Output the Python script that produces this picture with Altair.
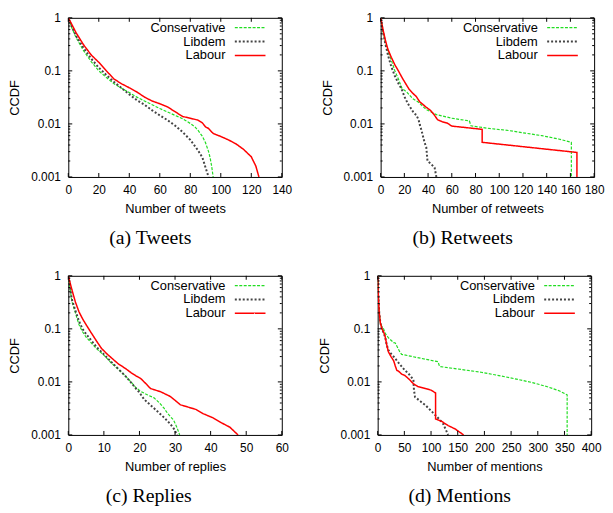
import altair as alt
import pandas as pd

PARTIES = ["Conservative", "Libdem", "Labour"]
COLORS = ["#22dd22", "#444444", "#ff0000"]
DASHES = [[3, 1.5], [2, 2], [1, 0]]
WIDTHS = [1.2, 2.0, 1.5]

Y_MAJOR = [1, 0.1, 0.01, 0.001]
Y_MINOR = [m * d for d in [0.001, 0.01, 0.1] for m in range(2, 10)]

# ---- (a) Tweets ----
cons_a_x = [0, 2, 5, 10, 15, 20, 25, 30, 35, 40, 45, 50, 55, 60, 65, 70, 75, 80, 83, 85, 88, 90, 92, 93, 94, 95]
cons_a_y = [1, 0.68, 0.43, 0.24, 0.15, 0.1, 0.075, 0.057, 0.047, 0.039, 0.032, 0.027, 0.023, 0.0195, 0.0168,
            0.0145, 0.0125, 0.0102, 0.0088, 0.0076, 0.0058, 0.0044, 0.003, 0.0023, 0.0016, 0.001]
lib_a_x = [0, 2, 5, 10, 15, 20, 25, 30, 35, 40, 45, 50, 55, 60, 65, 70, 75, 80, 85, 88, 90, 92]
lib_a_y = [1, 0.72, 0.46, 0.27, 0.17, 0.115, 0.083, 0.062, 0.047, 0.036, 0.028, 0.023, 0.018, 0.0145, 0.0118,
           0.0093, 0.007, 0.005, 0.0032, 0.0023, 0.0015, 0.001]
lab_a_x = [0, 2, 5, 10, 15, 20, 25, 30, 35, 40, 45, 50, 55, 60, 65, 70, 75, 80, 85, 88, 90, 92, 95, 100, 105,
           110, 115, 120, 123, 125]
lab_a_y = [1, 0.78, 0.53, 0.31, 0.2, 0.145, 0.1, 0.07, 0.057, 0.048, 0.04, 0.032, 0.027, 0.024, 0.021, 0.017,
           0.0138, 0.0128, 0.0118, 0.0104, 0.0088, 0.0082, 0.0066, 0.0058, 0.005, 0.0042, 0.0033, 0.0024, 0.0016, 0.001]

# ---- (b) Retweets ----
cons_b_x = [0, 2, 4, 6, 9, 12, 15, 18, 22, 27, 31.6, 38.5, 47, 60, 74.8, 76.2, 90, 108, 122, 136, 150, 160.8, 160.8]
cons_b_y = [1, 0.55, 0.35, 0.24, 0.16, 0.1, 0.07, 0.047, 0.04, 0.03, 0.026, 0.0186, 0.015, 0.0128, 0.0114,
            0.0092, 0.0083, 0.0075, 0.0067, 0.006, 0.0052, 0.0045, 0.001]
lib_b_x = [0, 2, 4, 6.4, 9, 12, 15, 17.6, 20, 23, 26, 28, 30, 32, 33, 34.5, 35.6, 37, 38.5, 39.5, 42, 45.5, 47]
lib_b_y = [1, 0.55, 0.32, 0.19, 0.12, 0.08, 0.058, 0.046, 0.033, 0.024, 0.019, 0.016, 0.0148, 0.012, 0.0097,
           0.0075, 0.006, 0.0045, 0.0036, 0.002, 0.0018, 0.0015, 0.001]
lab_b_x = [0, 2, 4, 6, 9, 12, 15, 18, 21, 24, 27, 30, 33, 35, 38, 42, 45, 48, 52, 56, 60, 85.6, 85.6, 165.5, 165.5]
lab_b_y = [1, 0.6, 0.38, 0.26, 0.18, 0.13, 0.1, 0.075, 0.058, 0.045, 0.038, 0.033, 0.026, 0.024, 0.021, 0.018,
           0.015, 0.012, 0.011, 0.0104, 0.0091, 0.0079, 0.0045, 0.0029, 0.001]

# ---- (c) Replies ----
cons_c_x = [0, 1, 2, 3, 4, 5, 6.5, 8, 10.2, 12, 13.9, 16, 17.6, 19, 20.4, 22, 24.1, 25.5, 26.9, 28, 29.6, 30.5, 31.3]
cons_c_y = [1, 0.33, 0.2, 0.12, 0.088, 0.07, 0.054, 0.042, 0.031, 0.023, 0.0177, 0.013, 0.01, 0.0078, 0.0066,
            0.0058, 0.005, 0.0041, 0.0032, 0.0025, 0.0019, 0.0014, 0.001]
lib_c_x = [0, 1, 2, 3, 4, 5, 6.5, 8, 10.2, 12, 13.9, 16, 17.6, 19, 20, 21.3, 23, 25, 27, 28.7, 29.7, 30.6]
lib_c_y = [1, 0.36, 0.22, 0.14, 0.1, 0.08, 0.06, 0.045, 0.032, 0.024, 0.018, 0.013, 0.0098, 0.0075, 0.0063,
           0.0047, 0.0037, 0.0028, 0.0021, 0.0016, 0.0013, 0.001]
lab_c_x = [0, 1, 2, 3, 4, 5, 6.5, 8, 9.3, 11, 12.5, 14, 16, 17.6, 19, 20.4, 22, 23.1, 24.5, 26, 28.7, 30, 31.5,
           34, 36, 38, 40.7, 43, 45.4, 47.7]
lab_c_y = [1, 0.55, 0.32, 0.21, 0.155, 0.12, 0.083, 0.058, 0.043, 0.033, 0.027, 0.022, 0.018, 0.015, 0.013,
           0.0115, 0.009, 0.0075, 0.007, 0.0065, 0.0053, 0.0045, 0.0037, 0.0033, 0.003, 0.0025, 0.0021, 0.0017,
           0.0014, 0.001]

# ---- (d) Mentions ----
cons_d_x = [0, 1, 2, 3, 5, 8, 11, 14, 20, 30, 33, 42, 45, 80, 113, 116, 150, 194, 230, 256, 290, 318, 340, 355, 355]
cons_d_y = [1, 0.5, 0.3, 0.2, 0.13, 0.11, 0.1, 0.083, 0.068, 0.055, 0.054, 0.036, 0.033, 0.028, 0.024, 0.0195,
            0.0175, 0.0152, 0.013, 0.0115, 0.0097, 0.0081, 0.0068, 0.0057, 0.001]
lib_d_x = [0, 1, 2, 3, 5, 8, 11, 14, 17, 20, 25, 30, 39, 50, 60, 67, 68, 70, 80, 90, 104, 115, 123, 132]
lib_d_y = [1, 0.5, 0.3, 0.2, 0.13, 0.1, 0.085, 0.07, 0.05, 0.04, 0.034, 0.03, 0.023, 0.017, 0.0135, 0.011,
           0.007, 0.0052, 0.0043, 0.0036, 0.0026, 0.002, 0.0016, 0.001]
lab_d_x = [0, 1, 2, 3, 5, 8, 11, 14, 17, 20, 25, 30, 33, 36, 39, 45, 51, 60, 67, 75, 89, 100, 107, 108.5, 108.5,
           120, 132, 145, 161]
lab_d_y = [1, 0.5, 0.3, 0.2, 0.13, 0.1, 0.088, 0.072, 0.05, 0.037, 0.03, 0.025, 0.02, 0.0164, 0.016, 0.014,
           0.0132, 0.011, 0.0092, 0.0082, 0.0075, 0.007, 0.0063, 0.0062, 0.002, 0.0018, 0.0015, 0.0013, 0.001]

W, H = 216, 161
FONT = "Liberation Sans"


def panel(curves, xmax, xstep, xtitle, caption):
    rows = []
    for party, (xs, ys) in zip(PARTIES, curves):
        for i, (x, y) in enumerate(zip(xs, ys)):
            rows.append({"party": party, "v": x, "p": y, "i": i})
    df = pd.DataFrame(rows)
    xticks = list(range(0, xmax + 1, xstep))

    xscale = alt.Scale(domain=[0, xmax], nice=False, zero=False)
    yscale = alt.Scale(type="log", domain=[0.001, 1], nice=False)
    xaxis = alt.Axis(values=xticks, ticks=False, domain=False, grid=False, title=xtitle, format="d",
                     labelPadding=8, titlePadding=7, labelFlush=False, labelOverlap=False)
    yaxis = alt.Axis(values=Y_MAJOR, ticks=False, domain=False, grid=False, title="CCDF", format="~g",
                     labelPadding=8, titlePadding=9, labelFlush=False, labelOverlap=False)
    X = alt.X("v:Q", scale=xscale, axis=xaxis)
    Y = alt.Y("p:Q", scale=yscale, axis=yaxis)

    leg = alt.Legend(title=None, orient="none", legendX=W - 38.5, legendY=3.5,
                     symbolType="M-2.82,0H2.82", symbolSize=121, labelAlign="right",
                     labelOffset={"expr": "-31.5"}, padding=0, rowPadding=0,
                     labelFontSize=13, labelFont=FONT, labelColor="black")

    lines = alt.Chart(df).mark_line(clip=True).encode(
        x=X, y=Y,
        color=alt.Color("party:N", scale=alt.Scale(domain=PARTIES, range=COLORS), legend=leg),
        strokeDash=alt.StrokeDash("party:N", scale=alt.Scale(domain=PARTIES, range=DASHES), legend=leg),
        strokeWidth=alt.StrokeWidth("party:N", scale=alt.Scale(type="ordinal", domain=PARTIES, range=WIDTHS),
                                    legend=leg),
        order="i:Q",
    )

    xt = pd.DataFrame({"v": xticks})
    ymaj = pd.DataFrame({"p": Y_MAJOR})
    ymin = pd.DataFrame({"p": Y_MINOR})
    rule = dict(color="black", strokeWidth=1)
    layers = [lines]
    for ya, yb in [(H, H - 4), (0, 4)]:
        layers.append(alt.Chart(xt).mark_rule(**rule).encode(x=X, y=alt.value(ya), y2=alt.value(yb)))
    for dfy, ln in [(ymaj, 4), (ymin, 2)]:
        for xa, xb in [(0, ln), (W - ln, W)]:
            layers.append(alt.Chart(dfy).mark_rule(**rule).encode(y=Y, x=alt.value(xa), x2=alt.value(xb)))

    return alt.layer(*layers).properties(
        width=W, height=H,
        title=alt.TitleParams(caption, orient="bottom", font="Liberation Serif", fontSize=20,
                              fontWeight="normal", color="black", anchor="middle", frame="bounds", offset=13),
    )


pa = panel([(cons_a_x, cons_a_y), (lib_a_x, lib_a_y), (lab_a_x, lab_a_y)], 140, 20, "Number of tweets", "(a) Tweets")
pb = panel([(cons_b_x, cons_b_y), (lib_b_x, lib_b_y), (lab_b_x, lab_b_y)], 180, 20, "Number of retweets", "(b) Retweets")
pc = panel([(cons_c_x, cons_c_y), (lib_c_x, lib_c_y), (lab_c_x, lab_c_y)], 60, 10, "Number of replies", "(c) Replies")
pd_ = panel([(cons_d_x, cons_d_y), (lib_d_x, lib_d_y), (lab_d_x, lab_d_y)], 400, 50, "Number of mentions", "(d) Mentions")

ind = dict(color="independent", strokeDash="independent", strokeWidth="independent")


def row(a, b):
    return alt.hconcat(a, b, spacing=28).resolve_scale(**ind).resolve_legend(**ind)


chart = alt.vconcat(row(pa, pb), row(pc, pd_), spacing=20).resolve_scale(**ind).resolve_legend(**ind).properties(
    padding=0
).configure_view(stroke="black", strokeWidth=1).configure_axis(
    labelFont=FONT, labelFontSize=12, labelColor="black", titleFont=FONT, titleFontSize=13,
    titleFontWeight="normal", titleColor="black"
)

chart.save("out.html", embed_options={"renderer": "svg", "actions": False})
